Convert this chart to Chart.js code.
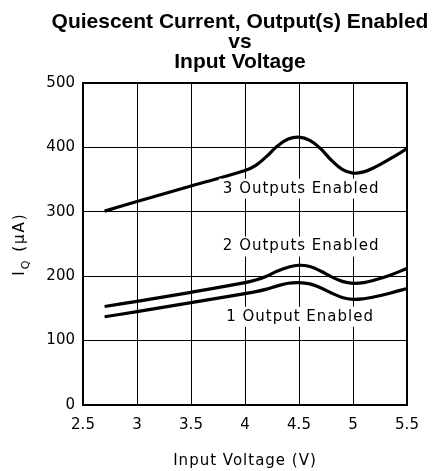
<!DOCTYPE html>
<html><head><meta charset="utf-8">
<script src="https://cdn.jsdelivr.net/npm/chart.js@4/dist/chart.umd.min.js"></script>
<style>html,body{margin:0;padding:0;background:#fff;}</style>
</head><body>
<canvas id="c" width="435" height="471" style="width:435px;height:471px;display:block"></canvas>
<script>
// ---- data ----
const voltage = [2.7, 3.0, 3.5, 4.0, 4.1, 4.2, 4.3, 4.4, 4.5, 4.6, 4.7, 4.8, 4.9, 5.0, 5.1, 5.2, 5.35, 5.5];
const out3 = [301, 316, 340, 364, 372, 386, 402, 413, 416, 411, 398, 380, 366, 360, 362, 369, 383, 398];
const out2 = [153, 161, 175, 190, 194, 200, 208, 214, 217, 215, 208, 199, 192, 189, 190, 194, 202, 212];
const out1 = [137, 145, 159, 173, 176, 180, 185, 189, 190, 188, 182, 174, 167, 164, 165, 168, 174, 181];
const labelTexts = ["3 Outputs Enabled", "2 Outputs Enabled", "1 Output Enabled"];
const labelX = [4.52, 4.52, 4.51];
const labelY = [336, 246, 137];
const titleLines = ["Quiescent Current, Output(s) Enabled", "vs", "Input Voltage"];
const xTitle = "Input Voltage (V)";

const pts = arr => voltage.map((v, i) => ({x: v, y: arr[i]}));
const lineDs = (label, arr) => ({
  label, data: pts(arr), borderColor: '#000', borderWidth: 3.2, pointRadius: 0,
  fill: false, tension: 0.4, clip: false
});

const FONT = "'DejaVu Sans', sans-serif";

const deco = {
  id: 'deco',
  beforeDatasetsDraw(chart) {
    const {ctx, chartArea: a} = chart;
    ctx.save();
    ctx.strokeStyle = '#000';
    ctx.lineWidth = 2;
    ctx.strokeRect(a.left, a.top, a.right - a.left, a.bottom - a.top);
    ctx.restore();
  },
  afterDatasetsDraw(chart) {
    const {ctx, chartArea: a, scales: {x, y}} = chart;
    ctx.save();
    // title
    ctx.fillStyle = '#000';
    ctx.textAlign = 'center';
    ctx.textBaseline = 'middle';
    ctx.font = "bold 21px 'Liberation Sans', Arial, sans-serif";
    titleLines.forEach((t, i) => ctx.fillText(t, 240, 22 + i * 20));
    // curve labels
    ctx.font = "15px " + FONT;
    try { ctx.letterSpacing = '1px'; } catch (e) {}
    labelTexts.forEach((t, i) => {
      const px = x.getPixelForValue(labelX[i]);
      const py = y.getPixelForValue(labelY[i]);
      const w = ctx.measureText(t).width;
      ctx.fillStyle = '#fff';
      ctx.fillRect(px - w / 2 - 4, py - 10, w + 8, 20);
      ctx.fillStyle = '#000';
      ctx.fillText(t, px, py);
    });
    // x axis title
    ctx.fillText(xTitle, (a.left + a.right) / 2, 461);
    // y axis title with subscript
    try { ctx.letterSpacing = '2px'; } catch (e) {}
    ctx.translate(19, (a.top + a.bottom) / 2);
    ctx.rotate(-Math.PI / 2);
    ctx.textAlign = 'left';
    ctx.textBaseline = 'alphabetic';
    ctx.font = "15px " + FONT;
    const wI = ctx.measureText("I").width;
    const rest = " (\u03BCA)";
    const wR = ctx.measureText(rest).width;
    ctx.font = "11px " + FONT;
    const wQ = ctx.measureText("Q").width;
    let sx = -(wI + wQ + wR) / 2;
    ctx.font = "15px " + FONT;
    ctx.fillText("I", sx, 5);
    ctx.font = "11px " + FONT;
    ctx.fillText("Q", sx + wI, 10);
    ctx.font = "15px " + FONT;
    ctx.fillText(rest, sx + wI + wQ, 5);
    ctx.restore();
  }
};

new Chart(document.getElementById('c'), {
  type: 'line',
  data: { datasets: [lineDs('3 Outputs Enabled', out3), lineDs('2 Outputs Enabled', out2), lineDs('1 Output Enabled', out1)] },
  options: {
    responsive: false, animation: false, devicePixelRatio: 1,
    layout: { padding: { left: 0, right: 28, top: 83, bottom: 0 } },
    plugins: { legend: { display: false }, tooltip: { enabled: false }, title: { display: false } },
    scales: {
      x: {
        type: 'linear', min: 2.5, max: 5.5,
        ticks: { stepSize: 0.5, color: '#000', font: { family: FONT, size: 15 }, padding: 11, maxRotation: 0,
                 callback: v => String(v) },
        grid: { color: '#000', lineWidth: 1, drawTicks: false },
        border: { display: false },
        afterFit(s) { s.height = 66; }
      },
      y: {
        min: 0, max: 500,
        ticks: { stepSize: 100, color: '#000', font: { family: FONT, size: 15 }, padding: 8 },
        grid: { color: '#000', lineWidth: 1, drawTicks: false },
        border: { display: false },
        afterFit(s) { s.width = 83; }
      }
    }
  },
  plugins: [deco]
});
</script>
</body></html>
